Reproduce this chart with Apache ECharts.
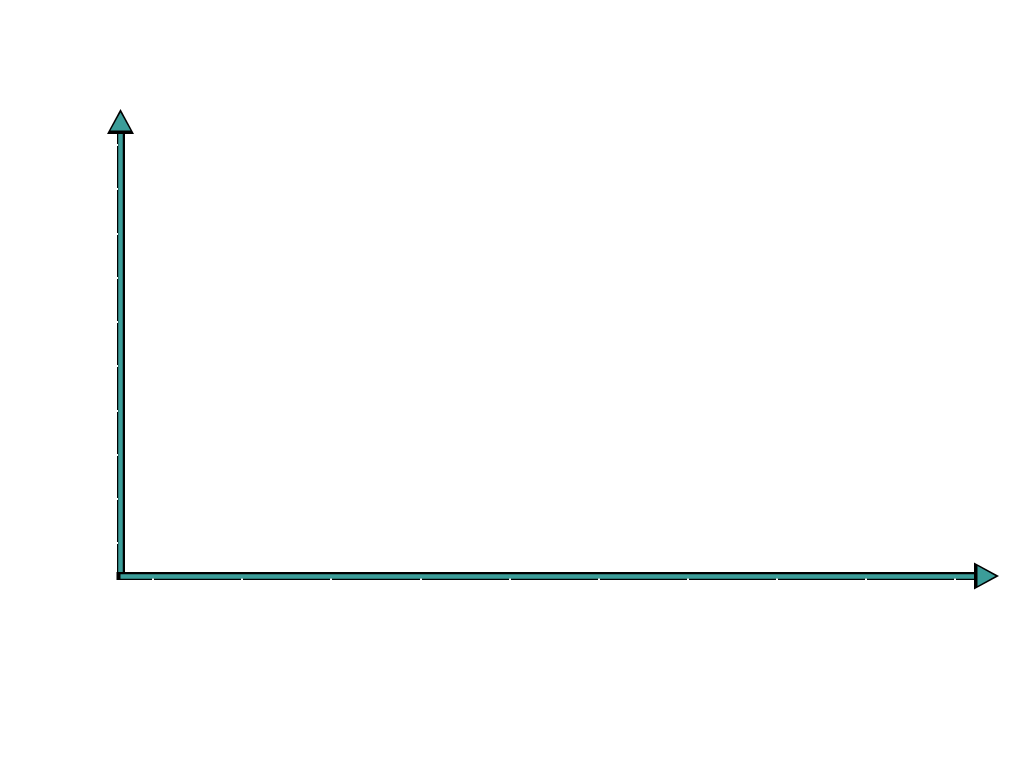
<!DOCTYPE html>
<html>
<head>
<meta charset="utf-8">
<script src="https://cdn.jsdelivr.net/npm/echarts@6/dist/echarts.min.js"></script>
<style>html,body{margin:0;padding:0;background:#fff;}#c{width:1024px;height:768px;}</style>
</head>
<body>
<div id="c"></div>
<script>
// The reference is an empty chart: only arrowed axes with tick marks, no data or labels.
var categories = [];
var seriesValues = [];
var xTickValues = [0, 1, 2, 3, 4, 5, 6, 7, 8, 9];
var yTickValues = [0, 1, 2, 3, 4, 5, 6, 7, 8, 9];

var TEAL = '#3B9D99';
var chart = echarts.init(document.getElementById('c'));

function lineAxis(grid, pos, color, width, cap, size) {
  return {
    type: 'value', gridIndex: grid, position: pos, min: 0, max: 1,
    axisLine: { show: true, onZero: false, symbol: ['none', 'triangle'], symbolSize: size,
      lineStyle: { color: color, width: width, cap: cap } },
    axisTick: { show: false }, axisLabel: { show: false }, splitLine: { show: false }
  };
}
function tickAxis(grid, pos, vals) {
  return {
    type: 'value', gridIndex: grid, position: pos, offset: 2.5,
    min: vals[0], max: vals[vals.length - 1], interval: 1,
    axisLine: { show: false, onZero: false },
    axisTick: { show: true, length: 2, lineStyle: { color: '#ffffff', width: 2 } },
    axisLabel: { show: false }, splitLine: { show: false }
  };
}
function hiddenAxis(grid, pos) {
  return {
    type: 'value', gridIndex: grid, position: pos, min: 0, max: 1, show: false,
    axisLine: { show: false, onZero: false }, axisTick: { show: false },
    axisLabel: { show: false }, splitLine: { show: false }
  };
}

chart.setOption({
  backgroundColor: '#ffffff',
  animation: false,
  grid: [
    { left: 120.5, right: 37.5, top: 121.5, bottom: 192 },
    { left: 120.5, right: 37.5, top: 145, bottom: 225 },
    { left: 153, right: 69, top: 121.5, bottom: 192 }
  ],
  xAxis: [
    lineAxis(0, 'bottom', '#000000', 8, 'square', [27, 25]),
    lineAxis(0, 'bottom', TEAL, 4.5, 'butt', [20, 18]),
    tickAxis(2, 'bottom', xTickValues),
    hiddenAxis(1, 'bottom')
  ],
  yAxis: [
    lineAxis(0, 'left', '#000000', 8, 'square', [27, 25]),
    lineAxis(0, 'left', TEAL, 4.5, 'butt', [20, 18]),
    tickAxis(1, 'left', yTickValues),
    hiddenAxis(2, 'left')
  ],
  series: []
});
</script>
</body>
</html>
